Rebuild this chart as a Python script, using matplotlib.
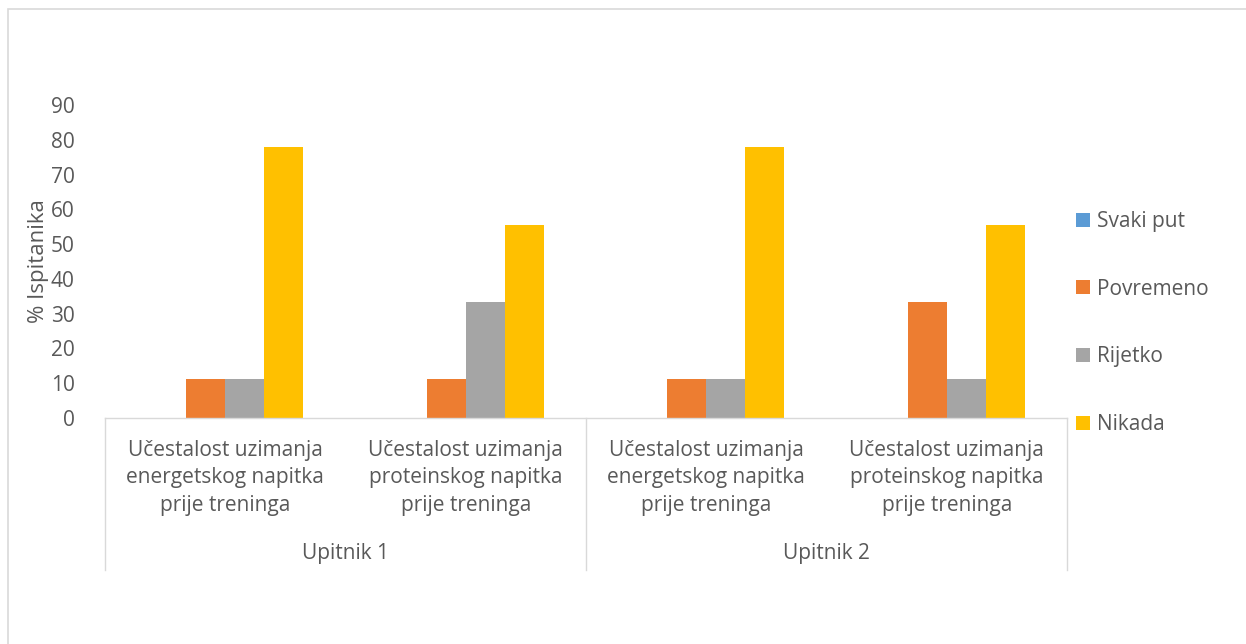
import numpy as np
import matplotlib.pyplot as plt
from matplotlib.patches import Rectangle

plt.rcParams['font.family'] = ['Open Sans', 'DejaVu Sans']

# data
categories = ['Učestalost uzimanja\nenergetskog napitka\nprije treninga',
              'Učestalost uzimanja\nproteinskog napitka\nprije treninga',
              'Učestalost uzimanja\nenergetskog napitka\nprije treninga',
              'Učestalost uzimanja\nproteinskog napitka\nprije treninga']
groups = ['Upitnik 1', 'Upitnik 2']
series = ['Svaki put', 'Povremeno', 'Rijetko', 'Nikada']
svaki_put = [0, 0, 0, 0]
povremeno = [11.1, 11.1, 11.1, 33.3]
rijetko = [11.1, 33.3, 11.1, 11.1]
nikada = [77.8, 55.6, 77.8, 55.6]

colors = ['#5B9BD5', '#ED7D31', '#A5A5A5', '#FFC000']
txt = '#595959'
line_c = '#D9D9D9'

W, H = 1246, 644
fig = plt.figure(figsize=(W / 100, H / 100), dpi=100)
ax = fig.add_axes([105 / W, 1 - 418 / H, (1067 - 105) / W, (418 - 105) / H])

x = np.arange(len(categories))
w = 39 / 240
vals = [svaki_put, povremeno, rijetko, nikada]
for i, (name, v) in enumerate(zip(series, vals)):
    ax.bar(x + (i - 1.5) * w, v, w, color=colors[i], label=name, zorder=2)

ax.set_xlim(-0.5, len(categories) - 0.5)
ax.set_ylim(0, 90)
ax.set_yticks(np.arange(0, 91, 10))
ax.tick_params(axis='y', length=0, pad=22, labelsize=15, labelcolor=txt)
ax.set_xticks([])
for s in ax.spines.values():
    s.set_visible(False)
ax.set_ylabel('% Ispitanika', fontsize=16, color=txt, labelpad=1)

# multi-level category axis
trans = ax.get_xaxis_transform()
px = 1 / (418 - 105)  # one pixel in axes y units
ax.plot([-0.5, 3.5], [0, 0], color=line_c, lw=1, transform=trans, clip_on=False)
for xb in [-0.5, 1.5, 3.5]:
    ax.plot([xb, xb], [0, -152 * px], color=line_c, lw=1, transform=trans, clip_on=False)
for xi, lab in zip(x, categories):
    ax.text(xi, -60 * px, lab, transform=trans, ha='center', va='center',
            fontsize=15, color=txt, linespacing=1.43)
for gi, g in enumerate(groups):
    ax.text(gi * 2 + 0.5, -136 * px, g, transform=trans, ha='center', va='center',
            fontsize=15, color=txt)

leg = ax.legend(loc='center left', bbox_to_anchor=(1068 / W, 1 - 323 / H),
                bbox_transform=fig.transFigure, frameon=False, fontsize=15,
                handlelength=0.65, handleheight=0.65, handletextpad=0.35,
                labelspacing=2.24, borderaxespad=0)
for t in leg.get_texts():
    t.set_color(txt)

# chart border
fig.patches.append(Rectangle((8 / W, -0.01), 1.02, 1 - 9 / H + 0.01, transform=fig.transFigure,
                             fill=False, edgecolor=line_c, lw=1.2))

fig.savefig('out.png', dpi=100)
